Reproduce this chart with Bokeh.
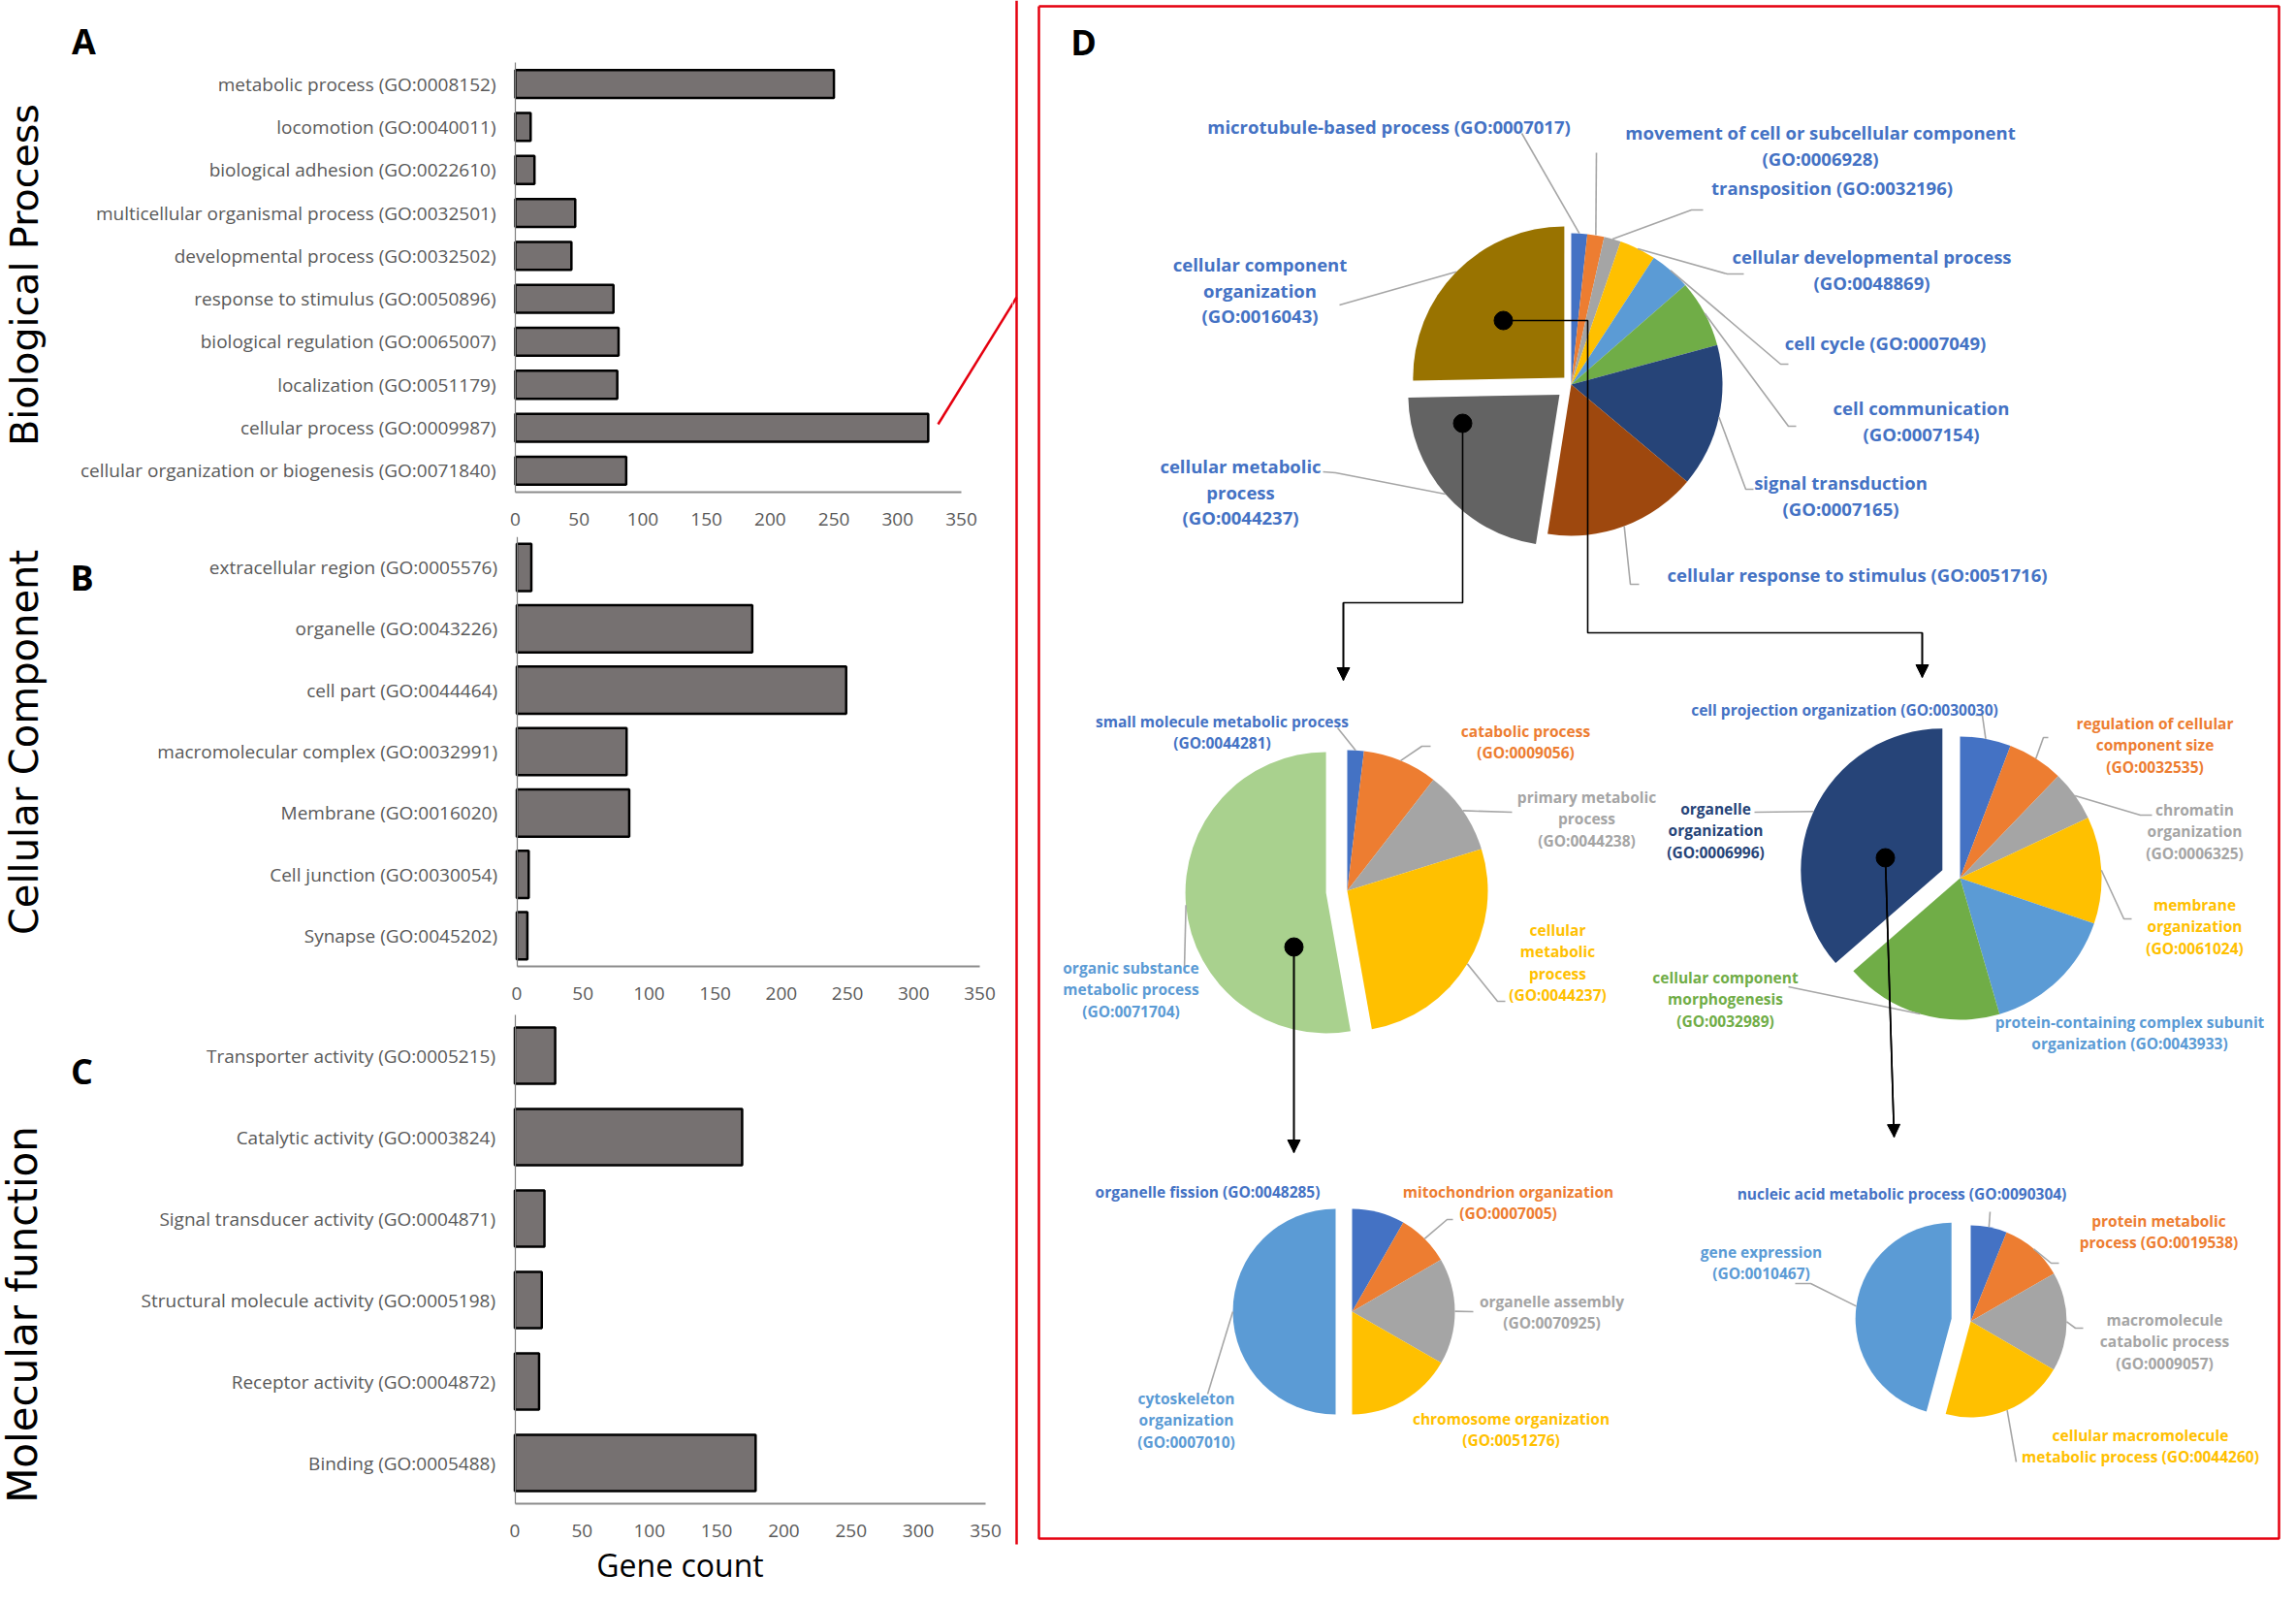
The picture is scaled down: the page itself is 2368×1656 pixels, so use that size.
import math
from bokeh.plotting import figure
from bokeh.models import Range1d, FixedTicker, Label, Arrow, NormalHead, ColumnDataSource
from bokeh.layouts import column, row
from bokeh.embed import file_html
from bokeh.resources import INLINE
from bokeh.core.properties import value

# ------------------------------------------------------------------ data
bp_terms = ["metabolic process (GO:0008152)", "locomotion (GO:0040011)",
            "biological adhesion (GO:0022610)", "multicellular organismal process (GO:0032501)",
            "developmental process (GO:0032502)", "response to stimulus (GO:0050896)",
            "biological regulation (GO:0065007)", "localization (GO:0051179)",
            "cellular process (GO:0009987)", "cellular organization or biogenesis (GO:0071840)"]
bp_counts = [250, 12, 15, 47, 44, 77, 81, 80, 324, 87]

cc_terms = ["extracellular region (GO:0005576)", "organelle (GO:0043226)", "cell part (GO:0044464)",
            "macromolecular complex (GO:0032991)", "Membrane (GO:0016020)",
            "Cell junction (GO:0030054)", "Synapse (GO:0045202)"]
cc_counts = [11, 178, 249, 83, 85, 9, 8]

mf_terms = ["Transporter activity (GO:0005215)", "Catalytic activity (GO:0003824)",
            "Signal transducer activity (GO:0004871)", "Structural molecule activity (GO:0005198)",
            "Receptor activity (GO:0004872)", "Binding (GO:0005488)"]
mf_counts = [30, 169, 22, 20, 18, 179]

gene_ticks = [0, 50, 100, 150, 200, 250, 300, 350]

# pie shares (percent of each pie)
main_terms = ["microtubule-based process", "movement of cell or subcellular component", "transposition",
              "cellular developmental process", "cell cycle", "cell communication", "signal transduction",
              "cellular response to stimulus", "cellular metabolic process", "cellular component organization"]
main_share = [1.7, 1.8, 1.8, 3.9, 4.4, 7.2, 15.3, 16.4, 22.2, 25.3]
main_colors = ["#4472C4", "#ED7D31", "#A5A5A5", "#FFC000", "#5B9BD5", "#70AD47",
               "#264478", "#9E480E", "#636363", "#997300"]

met_terms = ["small molecule metabolic process", "catabolic process", "primary metabolic process",
             "cellular metabolic process", "organic substance metabolic process"]
met_share = [1.9, 8.6, 9.7, 27.0, 52.8]
met_colors = ["#4472C4", "#ED7D31", "#A5A5A5", "#FFC000", "#A9D18E"]

org_terms = ["cell projection organization", "regulation of cellular component size", "chromatin organization",
             "membrane organization", "protein-containing complex subunit organization",
             "cellular component morphogenesis", "organelle organization"]
org_share = [5.8, 6.4, 5.8, 12.2, 15.3, 18.1, 36.4]
org_colors = ["#4472C4", "#ED7D31", "#A5A5A5", "#FFC000", "#5B9BD5", "#70AD47", "#264478"]

fis_terms = ["organelle fission", "mitochondrion organization", "organelle assembly",
             "chromosome organization", "cytoskeleton organization"]
fis_share = [8.3, 8.3, 16.7, 16.7, 50.0]
fis_colors = ["#4472C4", "#ED7D31", "#A5A5A5", "#FFC000", "#5B9BD5"]

nuc_terms = ["nucleic acid metabolic process", "protein metabolic process", "macromolecule catabolic process",
             "cellular macromolecule metabolic process", "gene expression"]
nuc_share = [6.1, 10.6, 16.7, 20.8, 45.8]
nuc_colors = ["#4472C4", "#ED7D31", "#A5A5A5", "#FFC000", "#5B9BD5"]

# ------------------------------------------------------------------ styles / layout
LEFT_W = 1044
H = 1640
D_W = 2352 - LEFT_W
GRAY_TXT = "#595959"
BAR_FILL = "#767171"
RED = "#E5000F"
LEAD = "#A6A6A6"
TXT_FONT = "Open Sans"


def bar_panel(terms, counts, fig_y0, fig_h, y_top_px, y_bot_px, x0_px, ppu, thick):
    n = len(terms)
    upp = n / float(y_bot_px - y_top_px)
    y_hi = n - 0.5 + (fig_y0 + fig_h - y_bot_px) * upp
    y_lo = -0.5 - (y_top_px - fig_y0) * upp
    p = figure(width=LEFT_W, height=fig_h,
               x_range=Range1d(-x0_px / ppu, (LEFT_W - x0_px) / ppu),
               y_range=Range1d(y_hi, y_lo), min_border=0,
               output_backend="svg", toolbar_location=None, tools="", title=None)
    p.outline_line_color = None
    p.grid.visible = False
    p.background_fill_color = "white"
    p.hbar(y=list(range(n)), left=0, right=counts, height=thick,
           fill_color=BAR_FILL, line_color="black", line_width=2.5)
    xa = p.xaxis[0]
    xa.fixed_location = n - 0.5
    xa.ticker = FixedTicker(ticks=gene_ticks)
    xa.bounds = (0, 350)
    xa.axis_line_color = "#8C8C8C"
    xa.axis_line_width = 2
    xa.major_tick_line_color = None
    xa.minor_tick_line_color = None
    xa.major_tick_in = 0
    xa.major_tick_out = 0
    xa.major_label_standoff = 21
    xa.major_label_text_font = TXT_FONT
    xa.major_label_text_font_size = "19px"
    xa.major_label_text_color = GRAY_TXT
    ya = p.yaxis[0]
    ya.fixed_location = 0
    ya.bounds = (-0.5, n - 0.5)
    ya.ticker = FixedTicker(ticks=list(range(n)))
    ya.major_label_overrides = {i: t for i, t in enumerate(terms)}
    ya.axis_line_color = "#7F7F7F"
    ya.axis_line_width = 1.2
    ya.major_tick_line_color = None
    ya.minor_tick_line_color = None
    ya.major_tick_in = 0
    ya.major_tick_out = 0
    ya.major_label_standoff = 20
    ya.major_label_text_font = TXT_FONT
    ya.major_label_text_font_size = "19px"
    ya.major_label_text_color = GRAY_TXT

    def to_data(cx, cy):
        return (cx - x0_px) / ppu, -0.5 + (cy - y_top_px) * upp
    return p, to_data


def add_label(p, conv, cx, cy, text, size, font, style="normal", angle=0.0, color="black"):
    x, y = conv(cx, cy)
    p.add_layout(Label(x=x, y=y, text=text, text_font=font, text_font_size=size,
                       text_font_style=style, text_color=color, text_align="center",
                       text_baseline="middle", angle=angle))


A, a_xy = bar_panel(bp_terms, bp_counts, 0, 553, 64, 507, 531, 460 / 350, 0.65)
B, b_xy = bar_panel(cc_terms, cc_counts, 553, 490, 553, 996, 532.5, 477.5 / 350, 0.77)
C, c_xy = bar_panel(mf_terms, mf_counts, 1043, 597, 1046, 1550, 530.5, 485.5 / 350, 0.69)

add_label(A, a_xy, 86, 42, "A", "36px", TXT_FONT, "bold")
add_label(B, b_xy, 84, 595, "B", "36px", TXT_FONT, "bold")
add_label(C, c_xy, 84, 1104, "C", "36px", TXT_FONT, "bold")
add_label(A, a_xy, 24, 283, "Biological Process", "39.5px", "DejaVu Sans", angle=math.pi / 2)
add_label(B, b_xy, 24, 765, "Cellular Component", "40px", "DejaVu Sans", angle=math.pi / 2)
add_label(C, c_xy, 23, 1355, "Molecular function", "42px", "DejaVu Sans", angle=math.pi / 2)
add_label(C, c_xy, 701, 1613, "Gene count", "32px", TXT_FONT)

# red connector from the "cellular process" bar towards panel D
diag = [(967, 437), (1048, 306)]
dx0, dy0 = a_xy(*diag[0])
dx1, dy1 = a_xy(*diag[1])
A.line([dx0, dx1], [dy0, dy1], line_color=RED, line_width=2.5)

# ------------------------------------------------------------------ panel D (data = picture pixels)
D = figure(width=D_W, height=H, x_range=Range1d(LEFT_W, 2352), y_range=Range1d(H, 0),
           min_border=0, x_axis_type=None, y_axis_type=None, output_backend="svg",
           toolbar_location=None, tools="", title=None)
D.outline_line_color = None
D.grid.visible = False

D.line([diag[0][0], diag[1][0]], [diag[0][1], diag[1][1]], line_color=RED, line_width=2.5)
D.line([1048, 1048], [0, 1592], line_color=RED, line_width=2.5)
D.line([1071, 2350, 2350, 1071, 1071], [6, 6, 1586, 1586, 6], line_color=RED, line_width=2.5)
D.text(x=[1117], y=[43], text=["D"], text_font=value(TXT_FONT), text_font_style="bold",
       text_font_size="36px", text_align="center", text_baseline="middle", text_color="black")

OFF = 8  # layout constants below were measured 8px up-left of the picture


def add_pie(shares, colors, cx, cy, r, explode):
    cx += OFF
    cy += OFF
    total = float(sum(shares))
    cum = 0.0
    xs, ys, st, en, geo = [], [], [], [], []
    for i, v in enumerate(shares):
        c0 = cum / total * 360.0
        c1 = (cum + v) / total * 360.0
        cum += v
        mid = math.radians((c0 + c1) / 2.0)
        d = explode.get(i, 0.0)
        ox = cx + d * math.sin(mid)
        oy = cy - d * math.cos(mid)
        xs.append(ox)
        ys.append(oy)
        st.append(math.radians(90.0 - c1))
        en.append(math.radians(90.0 - c0))
        geo.append((ox + r * math.sin(mid), oy - r * math.cos(mid)))
    D.wedge(x=xs, y=ys, radius=r, start_angle=st, end_angle=en,
            fill_color=colors, line_color=None)
    return geo


main_geo = add_pie(main_share, main_colors, 1612, 388, 156, {8: 16, 9: 10})
met_geo = add_pie(met_share, met_colors, 1381, 910, 145, {4: 22})
org_geo = add_pie(org_share, org_colors, 2013, 897, 146, {6: 20})
fis_geo = add_pie(fis_share, fis_colors, 1386, 1344, 106, {4: 17})
nuc_geo = add_pie(nuc_share, nuc_colors, 2024, 1354, 99, {4: 20})

# leader lines: (pie rim geometry, slice index, label-side points)
leaders = [
    (main_geo, 0, [(1561, 129)]), (main_geo, 1, [(1638, 149)]),
    (main_geo, 2, [(1748, 208), (1736, 208)]), (main_geo, 3, [(1790, 274), (1773, 274)]),
    (main_geo, 4, [(1836, 367), (1828, 367)]), (main_geo, 5, [(1844, 431), (1836, 431)]),
    (main_geo, 6, [(1800, 496), (1792, 496)]), (main_geo, 7, [(1682, 594), (1673, 594)]),
    (main_geo, 9, [(1373, 306)]), (main_geo, 8, [(1356, 478), (1369, 479)]),
    (met_geo, 0, [(1371, 742)]), (met_geo, 1, [(1467, 761), (1458, 761)]),
    (met_geo, 2, [(1551, 829)]), (met_geo, 3, [(1544, 1024), (1536, 1024)]),
    (met_geo, 4, [(1213, 992)]),
    (org_geo, 0, [(2029, 729), (2036, 729)]), (org_geo, 1, [(2104, 752), (2099, 752)]),
    (org_geo, 2, [(2211, 832), (2199, 832)]), (org_geo, 3, [(2190, 939), (2182, 939)]),
    (org_geo, 5, [(1836, 1009)]), (org_geo, 6, [(1801, 829)]),
    (fis_geo, 1, [(1490, 1249), (1484, 1249)]), (fis_geo, 2, [(1511, 1344)]),
    (fis_geo, 4, [(1237, 1429)]),
    (nuc_geo, 0, [(2044, 1241)]), (nuc_geo, 1, [(2115, 1294), (2107, 1294)]),
    (nuc_geo, 2, [(2140, 1361), (2132, 1361)]), (nuc_geo, 3, [(2071, 1499)]),
    (nuc_geo, 4, [(1843, 1315), (1859, 1315)]),
]
lxs, lys = [], []
for geo, idx, pts in leaders:
    pts = [(q[0] + OFF, q[1] + OFF) for q in pts] + [geo[idx]]
    lxs.append([q[0] for q in pts])
    lys.append([q[1] for q in pts])
D.multi_line(xs=lxs, ys=lys, line_color=LEAD, line_width=1.6)

# black connectors between pies
connectors = [
    [(1542, 322), (1629, 322), (1629, 644), (1974, 644), (1974, 690)],
    [(1500, 428), (1500, 613), (1377, 613), (1377, 693)],
    [(1326, 968), (1326, 1180)],
    [(1936, 876), (1945, 1164)],
]
for pts in connectors:
    pts = [(q[0] + OFF, q[1] + OFF) for q in pts]
    D.line([q[0] for q in pts], [q[1] for q in pts], line_color="black", line_width=1.6)
    (xa_, ya_), (xb_, yb_) = pts[-2], pts[-1]
    D.add_layout(Arrow(end=NormalHead(size=13, fill_color="black", line_color="black", line_width=1),
                       x_start=xa_, y_start=ya_, x_end=xb_, y_end=yb_,
                       line_color="black", line_width=1.6))
D.scatter(x=[c[0][0] + OFF for c in connectors], y=[c[0][1] + OFF for c in connectors],
          size=19, color="black")

# labels
BLUE, ORANGE, GRAYL, YEL, LBLUE, GREEN, NAVY = ("#4472C4", "#ED7D31", "#A5A5A5", "#FFC000",
                                                 "#5B9BD5", "#70AD47", "#264478")
main_labels = [
    (["microtubule-based process (GO:0007017)"], 1424, 122),
    (["movement of cell or subcellular component", "(GO:0006928)"], 1869, 128),
    (["transposition (GO:0032196)"], 1881, 185),
    (["cellular developmental process", "(GO:0048869)"], 1922, 256),
    (["cell cycle (GO:0007049)"], 1936, 345),
    (["cell communication", "(GO:0007154)"], 1973, 412),
    (["signal transduction", "(GO:0007165)"], 1890, 489),
    (["cellular response to stimulus (GO:0051716)"], 1907, 584),
    (["cellular metabolic", "process", "(GO:0044237)"], 1271, 472),
    (["cellular component", "organization", "(GO:0016043)"], 1291, 264),
]
sub_labels = [
    (["small molecule metabolic process", "(GO:0044281)"], 1252, 735, BLUE),
    (["catabolic process", "(GO:0009056)"], 1565, 745, ORANGE),
    (["primary metabolic", "process", "(GO:0044238)"], 1628, 813, GRAYL),
    (["cellular", "metabolic", "process", "(GO:0044237)"], 1598, 950, YEL),
    (["organic substance", "metabolic process", "(GO:0071704)"], 1158, 989, LBLUE),
    (["cell projection organization (GO:0030030)"], 1894, 723, BLUE),
    (["regulation of cellular", "component size", "(GO:0032535)"], 2214, 737, ORANGE),
    (["chromatin", "organization", "(GO:0006325)"], 2255, 826, GRAYL),
    (["membrane", "organization", "(GO:0061024)"], 2255, 924, YEL),
    (["protein-containing complex subunit", "organization (GO:0043933)"], 2188, 1045, LBLUE),
    (["cellular component", "morphogenesis", "(GO:0032989)"], 1771, 999, GREEN),
    (["organelle", "organization", "(GO:0006996)"], 1761, 825, NAVY),
    (["organelle fission (GO:0048285)"], 1237, 1220, BLUE),
    (["mitochondrion organization", "(GO:0007005)"], 1547, 1220, ORANGE),
    (["organelle assembly", "(GO:0070925)"], 1592, 1333, GRAYL),
    (["chromosome organization", "(GO:0051276)"], 1550, 1454, YEL),
    (["cytoskeleton", "organization", "(GO:0007010)"], 1215, 1433, LBLUE),
    (["nucleic acid metabolic process (GO:0090304)"], 1953, 1222, BLUE),
    (["protein metabolic", "process (GO:0019538)"], 2218, 1250, ORANGE),
    (["macromolecule", "catabolic process", "(GO:0009057)"], 2224, 1352, GRAYL),
    (["cellular macromolecule", "metabolic process (GO:0044260)"], 2199, 1471, YEL),
    (["gene expression", "(GO:0010467)"], 1808, 1282, LBLUE),
]


def text_source(items, spacing, default_color=None):
    xs, ys, ts, cs = [], [], [], []
    for it in items:
        lines, x, y = it[0], it[1] + OFF, it[2] + OFF
        col = it[3] if len(it) > 3 else default_color
        for k, ln in enumerate(lines):
            xs.append(x)
            ys.append(y + k * spacing)
            ts.append(ln)
            cs.append(col)
    return ColumnDataSource(dict(x=xs, y=ys, text=ts, color=cs))


D.text(x="x", y="y", text="text", text_color="color", source=text_source(main_labels, 26.5, BLUE),
       text_font=value(TXT_FONT), text_font_style="bold", text_font_size="18.5px",
       text_align="center", text_baseline="middle")
D.text(x="x", y="y", text="text", text_color="color", source=text_source(sub_labels, 22.5),
       text_font=value(TXT_FONT), text_font_style="bold", text_font_size="15.5px",
       text_align="center", text_baseline="middle")

page = row(column(A, B, C), D)
open("out.html", "w").write(file_html(page, INLINE))
